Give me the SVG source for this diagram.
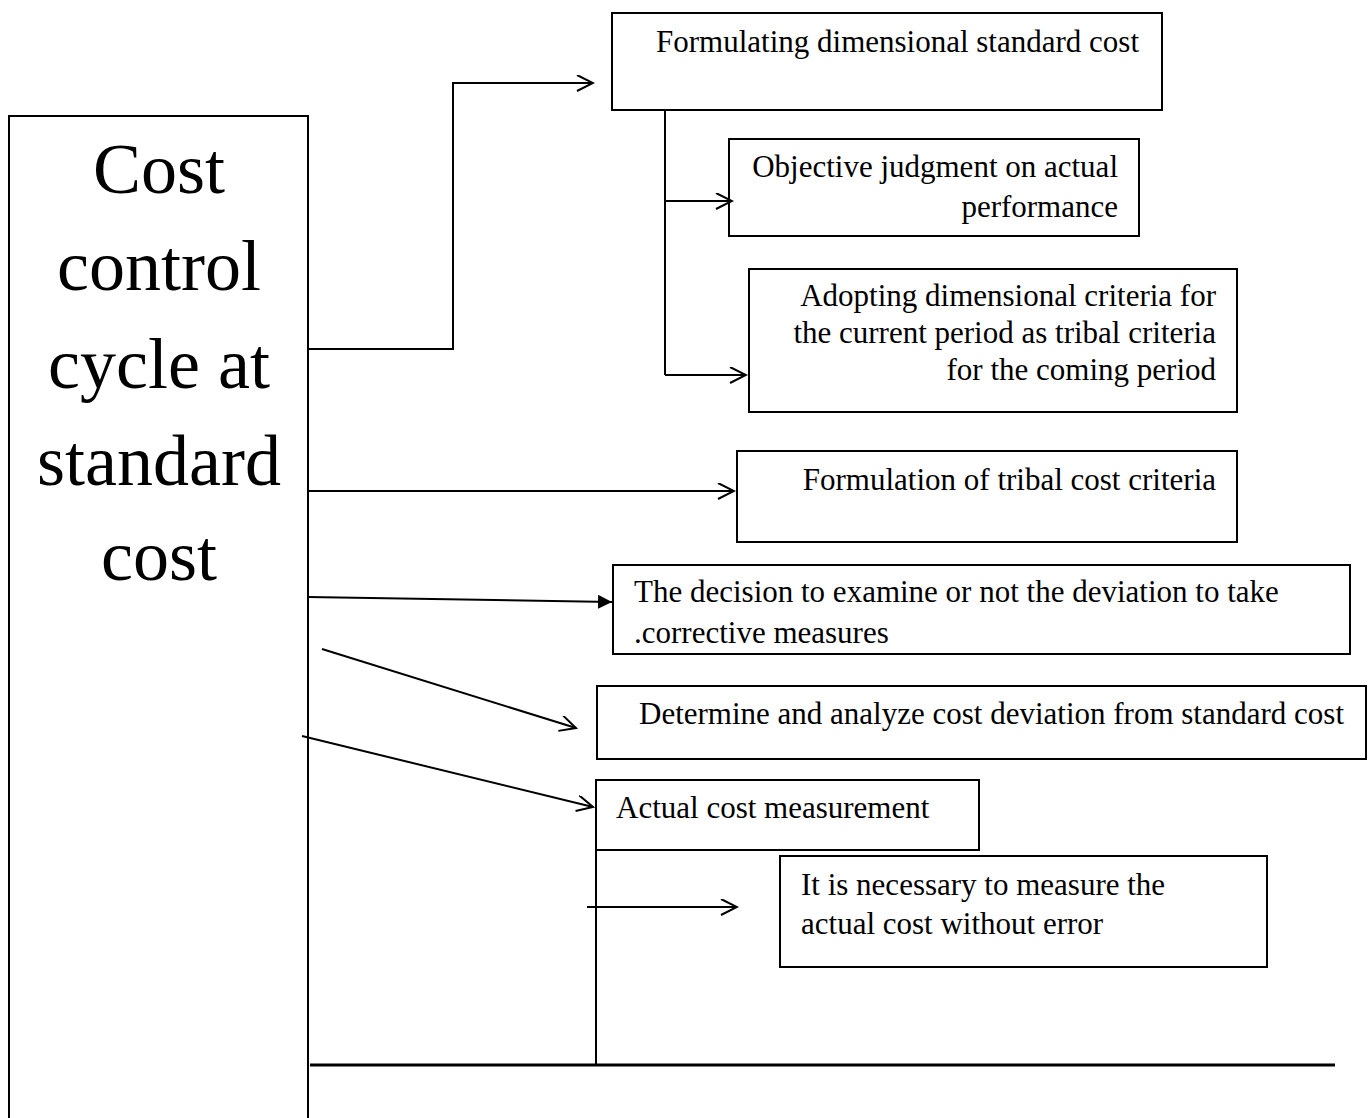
<svg xmlns="http://www.w3.org/2000/svg" width="1371" height="1118" viewBox="0 0 1371 1118">
<style>
.box{fill:#fff;stroke:#000;stroke-width:2}
.t{font-family:"Liberation Serif","Times New Roman",serif;font-size:31px;fill:#000}
.big{font-family:"Liberation Serif","Times New Roman",serif;font-size:72px;fill:#000;text-anchor:middle}
.r{text-anchor:end}
.ln{fill:none;stroke:#000;stroke-width:2}
</style>
<defs>
<marker id="open" markerWidth="20" markerHeight="20" refX="18" refY="8" orient="auto" markerUnits="userSpaceOnUse">
<path d="M2,0 L18,8 L2,16" fill="none" stroke="#000" stroke-width="2"/>
</marker>
<marker id="solid" markerWidth="16" markerHeight="14" refX="14" refY="7" orient="auto" markerUnits="userSpaceOnUse">
<path d="M0,0 L14,7 L0,14 Z" fill="#000"/>
</marker>
</defs>
<rect width="1371" height="1118" fill="#fff"/>
<g id="main">
<path class="ln" d="M9,1120 L9,116 L308,116 L308,1120"/>
<text class="big" x="159" y="193">Cost</text>
<text class="big" x="159" y="290">control</text>
<text class="big" x="159" y="388">cycle at</text>
<text class="big" x="159" y="485">standard</text>
<text class="big" x="159" y="580">cost</text>
</g>
<g id="n1"><rect class="box" x="612" y="13" width="550" height="97"/>
<text class="t" x="656" y="52">Formulating dimensional standard cost</text></g>
<g id="n2"><rect class="box" x="729" y="139" width="410" height="97"/>
<text class="t r" x="1118" y="177">Objective judgment on actual</text>
<text class="t r" x="1118" y="217">performance</text></g>
<g id="n3"><rect class="box" x="749" y="269" width="488" height="143"/>
<text class="t r" x="1216" y="306">Adopting dimensional criteria for</text>
<text class="t r" x="1216" y="343">the current period as tribal criteria</text>
<text class="t r" x="1216" y="380">for the coming period</text></g>
<g id="n4"><rect class="box" x="737" y="451" width="500" height="91"/>
<text class="t r" x="1216" y="490">Formulation of tribal cost criteria</text></g>
<g id="n5"><rect class="box" x="613" y="565" width="737" height="89"/>
<text class="t" x="634" y="602">The decision to examine or not the deviation to take</text>
<text class="t" x="634" y="643">.corrective measures</text></g>
<g id="n6"><rect class="box" x="597" y="686" width="769" height="73"/>
<text class="t" x="639" y="724">Determine and analyze cost deviation from standard cost</text></g>
<g id="n7"><rect class="box" x="596" y="780" width="383" height="70"/>
<text class="t" x="616" y="818">Actual cost measurement</text></g>
<g id="n8"><rect class="box" x="780" y="856" width="487" height="111"/>
<text class="t" x="801" y="895">It is necessary to measure the</text>
<text class="t" x="801" y="934">actual cost without error</text></g>
<g id="connectors">
<path class="ln" d="M308,349 L453,349 L453,83 L593,83" marker-end="url(#open)"/>
<path class="ln" d="M665,110 L665,375"/>
<path class="ln" d="M665,201 L732,201" marker-end="url(#open)"/>
<path class="ln" d="M665,375 L746,375" marker-end="url(#open)"/>
<path class="ln" d="M308,491 L734,491" marker-end="url(#open)"/>
<path class="ln" d="M308,597 L612,602" marker-end="url(#solid)"/>
<path class="ln" d="M322,649 L576,728" marker-end="url(#open)"/>
<path class="ln" d="M302,736 L593,807" marker-end="url(#open)"/>
<path class="ln" d="M596,850 L596,1065"/>
<path class="ln" d="M587,907 L737,907" marker-end="url(#open)"/>
<path fill="none" stroke="#000" stroke-width="3" d="M310,1065 L1335,1065"/>
</g>
</svg>
